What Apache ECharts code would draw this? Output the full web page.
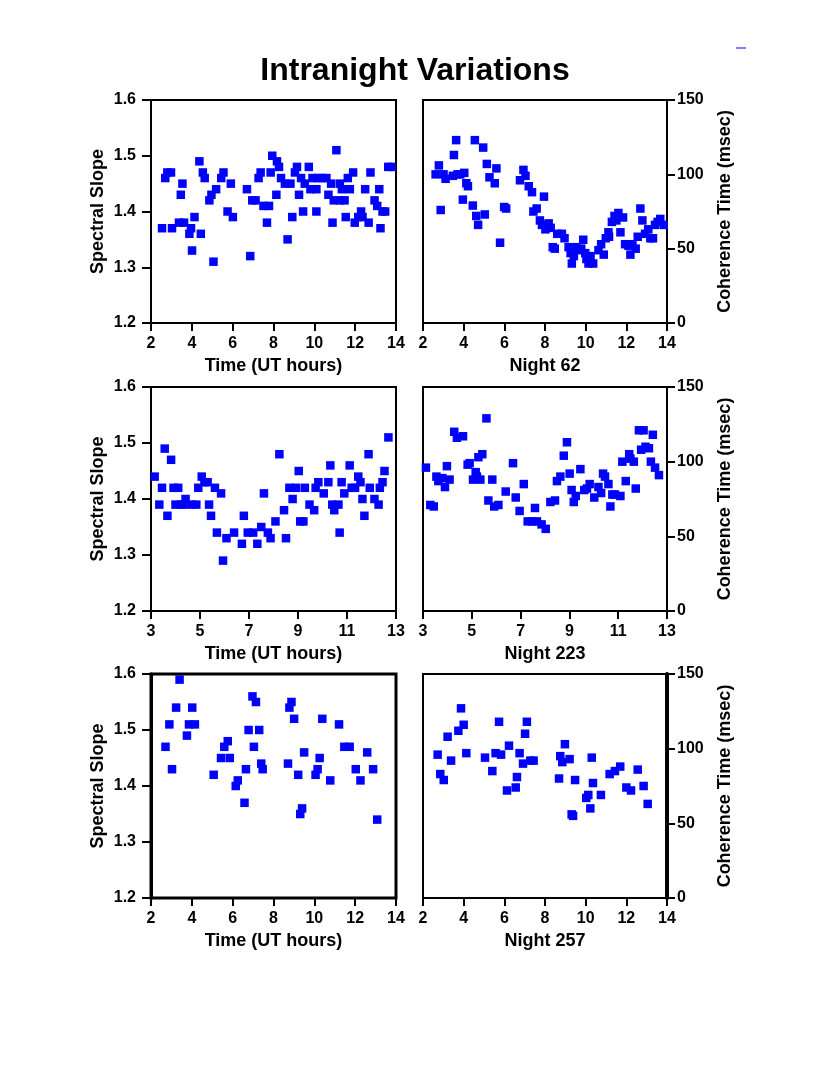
<!DOCTYPE html>
<html>
<head>
<meta charset="utf-8">
<script src="https://cdn.jsdelivr.net/npm/echarts@6/dist/echarts.min.js"></script>
<style>
html,body{margin:0;padding:0;background:#fff;}
#chart{width:830px;height:1075px;}
</style>
</head>
<body>
<div id="chart"></div>
<script>
// ---------- data ----------
const titleText = 'Intranight Variations';
const slopeName = 'Spectral Slope';
const cohName = 'Coherence Time (msec)';
const timeName = 'Time (UT hours)';
const nightNames = ['Night 62', 'Night 223', 'Night 257'];

const ticksX1 = [2, 4, 6, 8, 10, 12, 14];
const ticksX2 = [3, 5, 7, 9, 11, 13];
const ticksSlope = [1.2, 1.3, 1.4, 1.5, 1.6];
const ticksCoh = [0, 50, 100, 150];

// Night 62
const time62s = [2.54,2.70,2.80,2.98,3.03,3.46,3.54,3.37,3.62,3.88,3.96,4.13,4.01,4.37,4.44,4.54,4.63,4.86,4.96,5.06,5.19,5.44,5.55,5.75,5.91,6.01,6.70,6.86,6.96,7.12,7.27,7.37,7.51,7.78,7.68,7.86,7.94,8.14,8.17,8.27,8.37,8.56,8.83,8.69,8.92,9.05,9.15,9.25,9.35,9.45,9.53,9.73,9.81,9.91,10.10,10.10,10.17,10.37,10.59,10.69,10.82,10.89,10.95,11.08,11.25,11.35,11.25,11.48,11.54,11.64,11.74,11.90,11.98,12.15,12.29,12.36,12.49,12.66,12.75,12.95,13.08,13.18,13.24,13.34,13.47,13.62,13.78];
const slope62 = [1.37,1.46,1.47,1.47,1.37,1.43,1.45,1.38,1.38,1.36,1.37,1.39,1.33,1.49,1.36,1.47,1.46,1.42,1.43,1.31,1.44,1.46,1.47,1.40,1.45,1.39,1.44,1.32,1.42,1.42,1.46,1.47,1.41,1.41,1.38,1.47,1.50,1.43,1.49,1.48,1.46,1.45,1.45,1.35,1.39,1.47,1.48,1.43,1.46,1.40,1.45,1.48,1.44,1.46,1.44,1.40,1.46,1.46,1.46,1.43,1.45,1.38,1.42,1.51,1.42,1.44,1.45,1.42,1.39,1.46,1.44,1.47,1.38,1.39,1.40,1.39,1.44,1.38,1.47,1.42,1.41,1.44,1.37,1.40,1.40,1.48,1.48];
const time62c = [2.62,2.78,2.87,3.01,3.11,3.47,3.52,3.63,3.70,3.83,4.03,3.96,4.13,4.21,4.45,4.55,4.62,4.71,4.96,5.04,5.14,5.27,5.53,5.61,5.79,5.99,6.09,6.77,6.94,7.04,7.20,7.36,7.43,7.59,7.75,7.85,7.95,8.02,8.18,8.28,8.38,8.48,8.60,8.83,8.96,9.16,9.26,9.32,9.42,9.55,9.65,9.78,9.88,9.98,10.04,10.14,10.24,10.37,10.63,10.76,10.89,10.99,11.12,11.15,11.29,11.42,11.51,11.61,11.71,11.84,11.94,12.10,12.20,12.30,12.46,12.56,12.69,12.79,12.92,13.08,13.18,13.31,13.41,13.54,13.67,13.84];
const coh62 = [100,106,76,100,97,99,113,123,100,100,101,83,94,92,79,123,72,66,118,73,107,98,94,104,54,78,77,96,103,99,92,88,75,77,69,66,85,63,67,64,51,50,60,60,57,51,47,40,45,51,49,50,56,47,43,40,45,40,49,53,46,57,61,58,68,72,69,74,61,71,53,52,46,53,50,58,77,69,60,63,57,57,66,68,70,66];

// Night 223
const time223s = [3.15,3.34,3.45,3.56,3.67,3.82,3.92,4.00,4.11,4.22,4.33,4.41,4.66,4.85,4.93,5.07,5.18,5.31,5.37,5.45,5.61,5.69,5.86,5.94,6.08,6.39,6.71,6.79,6.95,7.17,7.34,7.50,7.61,7.77,7.88,8.08,8.24,8.43,8.51,8.65,8.78,8.92,9.03,9.09,9.22,9.28,9.47,9.66,9.72,9.83,10.05,10.24,10.32,10.40,10.48,10.65,10.70,10.78,10.89,11.11,11.19,11.33,11.46,11.55,11.63,11.71,11.88,11.93,12.12,12.29,12.34,12.45,12.53,12.69];
const slope223 = [1.44,1.39,1.42,1.49,1.37,1.47,1.42,1.39,1.42,1.39,1.39,1.40,1.39,1.39,1.42,1.44,1.43,1.43,1.39,1.37,1.42,1.34,1.41,1.29,1.33,1.34,1.32,1.37,1.34,1.34,1.32,1.35,1.41,1.34,1.33,1.36,1.48,1.38,1.33,1.42,1.40,1.42,1.45,1.36,1.36,1.42,1.39,1.38,1.42,1.43,1.41,1.43,1.46,1.39,1.38,1.39,1.34,1.43,1.41,1.46,1.42,1.42,1.44,1.43,1.40,1.37,1.48,1.42,1.40,1.39,1.42,1.43,1.45,1.51];
const time223c = [3.12,3.30,3.44,3.55,3.63,3.79,3.90,3.98,4.09,4.28,4.39,4.64,4.83,4.91,5.05,5.16,5.21,5.27,5.35,5.43,5.60,5.68,5.84,5.92,6.09,6.39,6.69,6.80,6.96,7.13,7.29,7.48,7.59,7.67,7.86,8.03,8.22,8.41,8.49,8.63,8.77,8.90,9.01,9.09,9.18,9.26,9.45,9.61,9.72,9.83,10.02,10.19,10.30,10.38,10.46,10.60,10.68,10.76,10.87,11.09,11.17,11.31,11.45,11.50,11.64,11.72,11.85,11.94,12.04,12.12,12.26,12.34,12.42,12.51,12.67];
const coh223 = [96,71,70,90,87,89,83,97,88,120,116,117,98,99,88,93,90,103,88,105,129,74,88,70,71,80,99,76,67,85,60,60,69,60,58,55,73,74,87,90,104,113,92,81,73,77,95,81,82,85,76,83,79,92,90,85,70,78,78,77,100,87,105,102,100,82,121,108,121,110,109,100,118,96,91];

// Night 257
const time257s = [2.71,2.90,3.03,3.23,3.40,3.76,3.86,4.02,4.15,5.07,5.43,5.59,5.76,5.86,6.15,6.25,6.58,6.65,6.78,6.97,7.04,7.14,7.30,7.40,7.47,8.71,8.78,8.88,9.01,9.21,9.31,9.40,9.50,10.06,10.16,10.26,10.39,10.78,11.21,11.47,11.73,12.03,12.26,12.59,12.88,13.08];
const slope257 = [1.47,1.51,1.43,1.54,1.59,1.49,1.51,1.54,1.51,1.42,1.45,1.47,1.48,1.45,1.40,1.41,1.37,1.43,1.50,1.56,1.47,1.55,1.50,1.44,1.43,1.44,1.54,1.55,1.52,1.42,1.35,1.36,1.46,1.42,1.43,1.45,1.52,1.41,1.51,1.47,1.47,1.43,1.41,1.46,1.43,1.34];
const time257c = [2.72,2.85,3.02,3.21,3.38,3.74,3.87,4.00,4.13,5.05,5.41,5.57,5.74,5.84,6.13,6.23,6.56,6.62,6.75,6.92,7.02,7.11,7.28,7.44,8.69,8.75,8.85,8.98,9.21,9.31,9.38,9.48,10.03,10.13,10.23,10.30,10.36,10.75,11.18,11.44,11.70,12.00,12.23,12.56,12.85,13.05];
const coh257 = [96,83,79,108,92,112,127,116,97,94,85,97,118,96,72,102,74,81,97,90,110,118,92,92,80,95,91,103,93,56,55,79,67,69,60,94,77,69,83,85,88,74,72,86,75,63];

// ---------- layout ----------
const rowTops = [100, 387, 674];
const rowH = [223, 224, 224];
const leftX = 151, rightX = 423, panelW = 245;
const FONT = '"Liberation Sans", Arial, Helvetica, sans-serif';

const zip = (a, b) => a.map((v, i) => [v, b[i]]);

const grids = [], xAxes = [], yAxes = [], series = [];
const rows = [
  {xr: [2, 14], xt: ticksX1, s: [time62s, slope62], c: [time62c, coh62], night: nightNames[0]},
  {xr: [3, 13], xt: ticksX2, s: [time223s, slope223], c: [time223c, coh223], night: nightNames[1]},
  {xr: [2, 14], xt: ticksX1, s: [time257s, slope257], c: [time257c, coh257], night: nightNames[2]}
];

const lineStyle = (w) => ({color: '#000', width: w});
const labelStyle = {color: '#000', fontWeight: 'bold', fontSize: 16, fontFamily: FONT};
const nameStyle = {color: '#000', fontWeight: 'bold', fontSize: 18, fontFamily: FONT};
const markStyle = {color: '#0000ff', opacity: 1};

rows.forEach((r, ri) => {
  const thick = ri === 2;
  grids.push({left: leftX, top: rowTops[ri], width: panelW, height: rowH[ri], show: true,
    borderColor: '#000', borderWidth: thick ? 3 : 2, backgroundColor: 'transparent'});
  grids.push({left: rightX, top: rowTops[ri], width: panelW - 1, height: rowH[ri], show: true,
    borderColor: '#000', borderWidth: 2, backgroundColor: 'transparent'});
  [0, 1].forEach(side => {
    const gi = ri * 2 + side;
    xAxes.push({
      type: 'value', gridIndex: gi, min: r.xr[0], max: r.xr[1],
      name: side === 0 ? timeName : r.night, nameLocation: 'middle', nameGap: 34,
      nameTextStyle: nameStyle,
      axisLine: {show: true, onZero: false, lineStyle: lineStyle(2)},
      axisTick: {show: true, length: 8, lineStyle: lineStyle(2), customValues: r.xt},
      axisLabel: Object.assign({margin: 13, customValues: r.xt, formatter: v => String(v)}, labelStyle),
      splitLine: {show: false}
    });
    if (side === 0) {
      yAxes.push({
        type: 'value', gridIndex: gi, position: 'left', min: 1.2, max: 1.6,
        name: slopeName, nameLocation: 'middle', nameGap: 44, nameRotate: 90,
        nameTextStyle: nameStyle,
        axisLine: {show: true, onZero: false, lineStyle: lineStyle(thick ? 3 : 2)},
        axisTick: {show: true, length: 9, lineStyle: lineStyle(2), customValues: ticksSlope},
        axisLabel: Object.assign({margin: 15, customValues: ticksSlope, formatter: v => v.toFixed(1)}, labelStyle),
        splitLine: {show: false}
      });
      series.push({type: 'scatter', xAxisIndex: gi, yAxisIndex: gi, symbol: 'rect', symbolSize: 8.5,
        itemStyle: markStyle, data: zip(r.s[0], r.s[1]), silent: true});
    } else {
      yAxes.push({
        type: 'value', gridIndex: gi, position: 'right', min: 0, max: 150,
        name: cohName, nameLocation: 'middle', nameGap: 49, nameRotate: 90,
        nameTextStyle: nameStyle,
        axisLine: {show: true, onZero: false, lineStyle: lineStyle(thick ? 4 : 2)},
        axisTick: {show: true, length: 8, lineStyle: lineStyle(2), customValues: ticksCoh},
        axisLabel: Object.assign({margin: 10, customValues: ticksCoh, formatter: v => String(v)}, labelStyle),
        splitLine: {show: false}
      });
      series.push({type: 'scatter', xAxisIndex: gi, yAxisIndex: gi, symbol: 'rect', symbolSize: 8.5,
        itemStyle: markStyle, data: zip(r.c[0], r.c[1]), silent: true});
    }
  });
});

const chart = echarts.init(document.getElementById('chart'), null, {renderer: 'canvas'});
chart.setOption({
  animation: false,
  backgroundColor: '#fff',
  title: {text: titleText, left: 'center', top: 50,
    textStyle: {color: '#000', fontWeight: 'bold', fontSize: 32, fontFamily: FONT}},
  grid: grids,
  xAxis: xAxes,
  yAxis: yAxes,
  series: series,
  graphic: [{type: 'rect', left: 736, top: 47, shape: {width: 10, height: 2}, style: {fill: '#7f7fff'}}]
});
</script>
</body>
</html>
